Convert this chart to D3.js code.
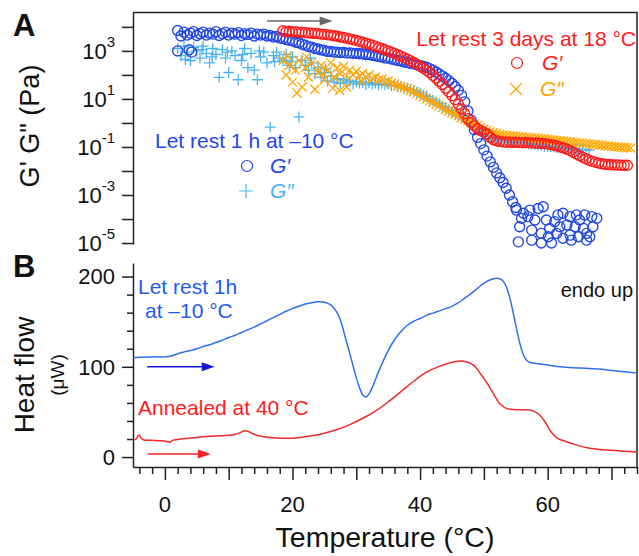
<!DOCTYPE html>
<html>
<head>
<meta charset="utf-8">
<script src="https://cdn.jsdelivr.net/npm/d3@7"></script>
<style>
  body { margin: 0; background: #fff; }
  svg { font-family: "Liberation Sans", Arial, sans-serif; display: block; }
</style>
</head>
<body>
<svg id="chart" width="639" height="556"></svg>
<script>
// ---- data (temperature in °C, moduli as log10(Pa), heat flow in µW) ----

// G' after 1 h at -10 °C  [T, log10 G']
var coldGp = [
  [2.0,3.85],[2.5,3.62],[3.0,3.78],[3.5,3.66],[4.0,3.74],[4.5,3.80],[5.0,3.64],[5.5,3.72],[6.0,3.78],[6.5,3.66],
  [7.0,3.74],[7.5,3.70],[8.0,3.80],[8.5,3.64],[9.0,3.72],[9.5,3.78],[10.0,3.66],[10.5,3.74],[11.0,3.70],[11.5,3.76],
  [12.0,3.64],[12.5,3.72],[13.0,3.68],[13.5,3.74],[14.0,3.62],[14.5,3.70],[15.0,3.66],[15.5,3.70],[16.0,3.62],[16.5,3.64],
  [17.0,3.58],[17.5,3.60],[18.0,3.54],[18.5,3.52],[19.0,3.48],[19.5,3.44],[20.0,3.42],[20.5,3.36],[21.0,3.34],[21.5,3.28],
  [22.0,3.24],[22.5,3.18],[23.0,3.16],[23.5,3.10],[24.0,3.08],[24.5,3.04],[25.0,3.02],[25.5,2.98],[26.0,2.98],[26.5,2.95],
  [27.0,2.95],[27.5,2.93],[28.0,2.94],[28.5,2.91],[29.0,2.92],[29.5,2.90],[30.0,2.90],[30.5,2.88],[31.0,2.88],[31.5,2.85],
  [32.0,2.85],[32.5,2.82],[33.0,2.80],[33.5,2.77],[34.0,2.75],[34.5,2.71],[35.0,2.70],[35.5,2.66],[36.0,2.64],[36.5,2.60],
  [37.0,2.58],[37.5,2.54],[38.0,2.52],[38.5,2.48],[39.0,2.46],[39.5,2.42],[40.0,2.40],[40.5,2.35],[41.0,2.32],[41.5,2.26],
  [42.0,2.20],[42.5,2.12],[43.0,2.04],[43.5,1.95],[44.0,1.86],[44.5,1.76],[45.0,1.65],[45.5,1.52],[46.0,1.36],[46.5,1.15],
  [47.0,0.88],[47.5,0.50],[48.0,0.12],[48.5,-0.28],[49.0,-0.60],[49.5,-0.86],[50.0,-1.12],[50.5,-1.38],[51.0,-1.62],[51.5,-1.85],
  [52.0,-2.08],[52.5,-2.28],[53.0,-2.48],[53.5,-2.72],[54.0,-3.00],[54.5,-3.28],[55.0,-3.52],
  [2.0,3.00],[3.8,3.05],[4.2,2.95],
  [55.1,-3.63],[56.2,-3.76],[57.2,-3.63],[58.5,-3.56],[59.3,-3.49],[55.6,-4.32],[57.5,-4.46],[59.0,-4.60],[60.3,-4.39],[61.6,-3.83],
  [62.4,-3.76],[63.5,-3.90],[64.5,-3.83],[65.0,-4.04],[65.8,-3.83],[66.9,-3.90],[67.1,-4.32],[66.1,-4.60],[64.8,-4.74],[63.5,-4.67],
  [62.4,-4.80],[61.4,-4.60],[60.6,-5.00],[59.0,-5.00],[57.5,-4.88],[55.4,-4.95],[55.9,-3.97],[58.0,-4.04],[59.8,-4.04],[61.1,-4.11],
  [63.0,-4.25],[64.3,-4.32],[65.6,-4.39],[66.6,-4.74],[61.9,-4.32],[60.1,-4.74],[56.9,-3.90],[63.7,-4.88],[66.1,-4.88],[67.7,-3.97]
];

// G'' after 1 h at -10 °C
var coldGpp = [
  [2.0,3.10],[2.5,2.80],[3.0,3.20],[3.5,2.95],[4.0,2.60],[4.5,3.15],[5.0,3.00],[5.5,2.70],[6.0,3.20],[6.5,2.90],
  [7.0,2.50],[7.5,3.10],[8.0,2.85],[8.5,1.90],[9.0,3.05],[9.5,2.70],[10.0,2.10],[10.5,3.00],[11.0,2.80],[11.5,1.80],
  [12.0,2.60],[12.5,3.10],[13.0,2.30],[13.5,2.90],[14.0,2.20],[14.5,1.80],[15.0,2.75],[15.5,2.95],[16.0,2.50],[16.5,-0.17],
  [17.0,2.80],[17.5,2.95],[18.0,2.70],[18.5,2.60],[19.0,2.85],[19.5,2.40],[20.0,2.75],[20.5,2.30],[21.0,0.25],[21.5,2.60],
  [22.0,2.40],[22.5,2.20],[23.0,2.50],[23.5,2.05],[24.0,2.30],[24.5,1.90],[25.0,2.10],[25.5,1.75],[26.0,1.95],[26.5,1.70],
  [27.0,1.85],[27.5,1.65],[28.0,1.80],[28.5,1.70],[29.0,1.75],[29.5,1.62],[30.0,1.72],[30.5,1.66],[31.0,1.70],[31.5,1.60],
  [32.0,1.68],[32.5,1.62],[33.0,1.66],[33.5,1.58],[34.0,1.65],[34.5,1.60],[35.0,1.62],[35.5,1.55],[36.0,1.58],[36.5,1.52],
  [37.0,1.52],[37.5,1.46],[38.0,1.45],[38.5,1.38],[39.0,1.36],[39.5,1.28],[40.0,1.24],[40.5,1.15],[41.0,1.10],[41.5,1.00],
  [42.0,0.95],[42.5,0.86],[43.0,0.80],[43.5,0.70],[44.0,0.64],[44.5,0.55],[45.0,0.48],[45.5,0.40],[46.0,0.34],[46.5,0.24],
  [47.0,0.15],[47.5,0.04],[48.0,-0.06],[48.5,-0.16],[49.0,-0.26],[49.5,-0.36],[50.0,-0.44],[50.5,-0.50],[51.0,-0.56],[51.5,-0.60],
  [52.0,-0.64],[52.5,-0.67],[53.0,-0.70],[53.5,-0.72],[54.0,-0.74],[54.5,-0.76],[55.0,-0.78],[55.5,-0.80],[56.0,-0.82],[56.5,-0.84],
  [57.0,-0.86],[57.5,-0.88],[58.0,-0.90],[58.5,-0.92],[59.0,-0.94],[59.5,-0.96],[60.0,-0.97],[60.5,-0.99],[61.0,-1.00],[61.5,-1.02],
  [62.0,-1.03],[62.5,-1.05],[63.0,-1.06],[63.5,-1.07],[64.0,-1.08],[64.5,-1.09],[65.0,-1.10],[65.5,-1.11],[66.0,-1.12],[66.5,-1.13],
  [3.2,2.65],[5.8,3.05],[7.4,2.75],[9.8,2.95],[12.2,2.85],[14.8,3.00],[17.2,2.55],[19.8,2.55],[22.8,2.70],[25.2,2.25]
];

// G' after 3 days at 18 °C
var warmGp = [
  [18.5,3.84],[19.0,3.80],[19.5,3.82],[20.0,3.79],[20.5,3.80],[21.0,3.77],[21.5,3.78],[22.0,3.76],[22.5,3.75],[23.0,3.74],
  [23.5,3.73],[24.0,3.72],[24.5,3.70],[25.0,3.69],[25.5,3.67],[26.0,3.66],[26.5,3.63],[27.0,3.61],[27.5,3.58],[28.0,3.56],
  [28.5,3.53],[29.0,3.50],[29.5,3.47],[30.0,3.44],[30.5,3.40],[31.0,3.36],[31.5,3.32],[32.0,3.28],[32.5,3.24],[33.0,3.19],
  [33.5,3.15],[34.0,3.10],[34.5,3.05],[35.0,3.00],[35.5,2.95],[36.0,2.90],[36.5,2.84],[37.0,2.78],[37.5,2.72],[38.0,2.66],
  [38.5,2.59],[39.0,2.52],[39.5,2.44],[40.0,2.36],[40.5,2.28],[41.0,2.19],[41.5,2.10],[42.0,1.98],[42.5,1.86],[43.0,1.73],
  [43.5,1.60],[44.0,1.45],[44.5,1.30],[45.0,1.14],[45.5,0.97],[46.0,0.78],[46.5,0.58],[47.0,0.38],[47.5,0.18],[48.0,0.02],
  [48.5,-0.12],[49.0,-0.24],[49.5,-0.32],[50.0,-0.38],[50.5,-0.46],[51.0,-0.60],[51.5,-0.70],[52.0,-0.74],[52.5,-0.77],[53.0,-0.79],
  [53.5,-0.80],[54.0,-0.80],[54.5,-0.81],[55.0,-0.80],[55.5,-0.81],[56.0,-0.82],[56.5,-0.81],[57.0,-0.82],[57.5,-0.83],[58.0,-0.83],
  [58.5,-0.84],[59.0,-0.85],[59.5,-0.86],[60.0,-0.88],[60.5,-0.90],[61.0,-0.93],[61.5,-0.96],[62.0,-1.00],[62.5,-1.04],[63.0,-1.09],
  [63.5,-1.15],[64.0,-1.22],[64.5,-1.29],[65.0,-1.36],[65.5,-1.43],[66.0,-1.49],[66.5,-1.55],[67.0,-1.60],[67.5,-1.64],[68.0,-1.67],
  [68.5,-1.70],[69.0,-1.72],[69.5,-1.73],[70.0,-1.74],[70.5,-1.75],[71.0,-1.75],[71.5,-1.76],[72.0,-1.76],[72.5,-1.76]
];

// G'' after 3 days at 18 °C
var warmGpp = [
  [18.5,2.60],[19.0,2.00],[19.5,2.40],[20.0,1.70],[20.5,2.20],[21.0,2.60],[21.5,1.50],[22.0,2.30],[22.5,1.90],[23.0,2.50],
  [23.5,1.40],[24.0,2.10],[24.5,2.40],[25.0,1.80],[25.5,2.20],[26.0,2.50],[26.5,1.90],[27.0,2.30],[27.5,2.05],[28.0,2.35],
  [28.5,1.95],[29.0,2.20],[29.5,2.00],[30.0,2.15],[30.5,1.95],[31.0,2.05],[31.5,1.90],[32.0,2.00],[32.5,1.85],[33.0,1.92],
  [33.5,1.80],[34.0,1.82],[34.5,1.72],[35.0,1.74],[35.5,1.65],[36.0,1.62],[36.5,1.55],[37.0,1.52],[37.5,1.45],[38.0,1.42],
  [38.5,1.35],[39.0,1.30],[39.5,1.22],[40.0,1.15],[40.5,1.08],[41.0,1.00],[41.5,0.92],[42.0,0.86],[42.5,0.78],[43.0,0.72],
  [43.5,0.64],[44.0,0.56],[44.5,0.50],[45.0,0.42],[45.5,0.36],[46.0,0.30],[46.5,0.22],[47.0,0.15],[47.5,0.08],[48.0,0.02],
  [48.5,-0.04],[49.0,-0.10],[49.5,-0.18],[50.0,-0.25],[50.5,-0.30],[51.0,-0.36],[51.5,-0.40],[52.0,-0.44],[52.5,-0.47],[53.0,-0.50],
  [53.5,-0.52],[54.0,-0.53],[54.5,-0.54],[55.0,-0.55],[55.5,-0.56],[56.0,-0.58],[56.5,-0.59],[57.0,-0.60],[57.5,-0.62],[58.0,-0.63],
  [58.5,-0.65],[59.0,-0.66],[59.5,-0.67],[60.0,-0.69],[60.5,-0.70],[61.0,-0.72],[61.5,-0.73],[62.0,-0.74],[62.5,-0.76],[63.0,-0.77],
  [63.5,-0.78],[64.0,-0.80],[64.5,-0.81],[65.0,-0.83],[65.5,-0.84],[66.0,-0.86],[66.5,-0.87],[67.0,-0.89],[67.5,-0.90],[68.0,-0.92],
  [68.5,-0.93],[69.0,-0.95],[69.5,-0.96],[70.0,-0.98],[70.5,-0.99],[71.0,-1.00],[71.5,-1.01],[72.0,-1.02],[72.5,-1.03],[73.0,-1.04],
  [20.7,1.25],[26.3,1.45],[27.4,1.35],[28.5,1.50],[19.2,2.80],[22.2,2.75],[24.8,2.05],[30.8,1.75]
];

// DSC heat flow [T, µW]
var dscCold = [
  [-5,110],[-4,110.5],[-2,111],[0,111],[1,112],[2,114.5],[3,116.5],[4,118],[5,120],[6,122.5],[7,124.5],[8,127],
  [9,129.5],[10,132.5],[11,135],[12,138],[13,141],[14,144],[15,147.5],[16,151],[17,154.5],[18,158],[19,161.5],
  [20,164.5],[21,167],[22,169.5],[23,171],[24,172],[25,171.5],[26,168.5],[27,160],[27.5,152],[28,140],[28.5,127],
  [29,114],[29.5,101],[30,88],[30.5,77],[31,69],[31.5,66.5],[32,70],[32.5,77],[33,86],[34,103],[35,118],[36,130],
  [37,139],[38,146],[39,150.5],[40,153.5],[41,157],[42,159.5],[43,162],[44,164.5],[45,167],[46,171],[47,176],
  [48,181],[49,187],[50,192.5],[51,196.5],[52,198],[52.5,197.5],[53,195],[53.5,189],[54,178],[54.5,163],[55,146],
  [55.5,130],[56,117],[56.5,109],[57,105.5],[58,104],[60,102],[62,100],[64,99],[66,98.5],[68,97.5],[70,96],
  [72,94.5],[74,93]
];
var dscAnnealed = [
  [-5,19],[-4.5,20],[-4.1,24.5],[-3.7,21],[-3.3,19],[-2,18.5],[-1,18],[0,17.8],[0.5,17],[0.8,16.5],[1.2,18.5],
  [2,19.5],[4,21],[6,22.5],[8,23.3],[10,24.2],[11,25],[11.8,27],[12.4,29],[13,28.5],[13.8,25.8],[15,23],[17,21.5],
  [19,20.8],[21,21.5],[23,23.5],[25,26.5],[27,30.5],[29,36],[31,43],[33,51],[35,61],[37,72.5],[39,84],[41,94],
  [43,100.5],[45,105],[46.5,106.5],[47.5,105],[48.5,101],[49.5,92],[50.5,82],[51.5,70],[52.5,59],[53.5,54],
  [55,52.5],[56.5,52.5],[57.5,51.5],[58.5,48],[59.5,40],[60.5,28],[61.5,21],[62.5,18],[64,14.5],[66,10.5],
  [68,8.5],[70,7.5],[72,6.5],[74,5.5]
];

// axis ticks
var xMajorTicks = [0, 10, 20, 30, 40, 50, 60, 70];
var xLabelTicks = [0, 20, 40, 60];
var xMinorTicks = [-4,-2,2,4,6,8,12,14,16,18,22,24,26,28,32,34,36,38,42,44,46,48,52,54,56,58,62,64,66,68,72,74];
var gExponents = [-5, -4, -3, -2, -1, 0, 1, 2, 3, 4];
var gLabelExponents = [-5, -3, -1, 1, 3];
var hMajorTicks = [0, 100, 200];
var hMinorTicks = [20, 40, 60, 80, 120, 140, 160, 180];

// colours
var cBlue = "#1f46e6", cSky = "#4ab4f0", cRed = "#ff1a1a", cOrange = "#ffa500";
var cDscBlue = "#2f6ff0", cDscRed = "#f32a2a";

var svg = d3.select("#chart");

var x = d3.scaleLinear().domain([-5, 74]).range([133, 637]);
var yTop = d3.scaleLog().domain([Math.pow(10, -5.04), Math.pow(10, 4.62)]).range([244, 12]);
var yBot = d3.scaleLinear().domain([-11, 215]).range([467, 263]);

// frame (top + right)
svg.append("path")
  .attr("d", "M133,12.5H637V467")
  .attr("fill", "none").attr("stroke", "#222").attr("stroke-width", 1.5);

// ---- panel A axis ----
var axA = svg.append("g").attr("transform", "translate(133,0)")
  .call(d3.axisLeft(yTop).tickValues(gExponents.map(function (e) { return Math.pow(10, e); }))
    .tickSize(11).tickSizeOuter(0).tickFormat(""));
axA.select(".domain").attr("stroke", "#222").attr("stroke-width", 1.5);
axA.selectAll(".tick line").attr("stroke", "#222").attr("stroke-width", 1.5);

var labA = svg.append("g").selectAll("text").data(gLabelExponents).enter().append("text")
  .attr("x", 115).attr("y", function (e) { return yTop(Math.pow(10, e)); })
  .attr("dy", "0.35em").attr("text-anchor", "end")
  .attr("font-size", 22).attr("fill", "#111");
labA.append("tspan").text("10");
labA.append("tspan").attr("font-size", 15).attr("dy", "-0.75em").text(function (e) { return e; });

// ---- panel B axes ----
var axB = svg.append("g").attr("transform", "translate(133,0)")
  .call(d3.axisLeft(yBot).tickValues(hMajorTicks).tickSize(11).tickSizeOuter(0).tickFormat(""));
axB.select(".domain").attr("stroke", "#222").attr("stroke-width", 1.5);
axB.selectAll(".tick line").attr("stroke", "#222").attr("stroke-width", 1.5);
var axBm = svg.append("g").attr("transform", "translate(133,0)")
  .call(d3.axisLeft(yBot).tickValues(hMinorTicks).tickSize(6).tickFormat(""));
axBm.select(".domain").remove();
axBm.selectAll(".tick line").attr("stroke", "#222").attr("stroke-width", 1.5);

svg.append("g").selectAll("text").data(hMajorTicks).enter().append("text")
  .attr("x", 115).attr("y", function (d) { return yBot(d); })
  .attr("dy", "0.35em").attr("text-anchor", "end")
  .attr("font-size", 22).attr("fill", "#111").text(function (d) { return d; });

var axX = svg.append("g").attr("transform", "translate(0,467)")
  .call(d3.axisBottom(x).tickValues(xMajorTicks).tickSize(13).tickSizeOuter(0).tickFormat(""));
axX.select(".domain").attr("stroke", "#222").attr("stroke-width", 1.5);
axX.selectAll(".tick line").attr("stroke", "#222").attr("stroke-width", 1.5);
var axXm = svg.append("g").attr("transform", "translate(0,467)")
  .call(d3.axisBottom(x).tickValues(xMinorTicks).tickSize(7).tickFormat(""));
axXm.select(".domain").remove();
axXm.selectAll(".tick line").attr("stroke", "#222").attr("stroke-width", 1.5);

svg.append("g").selectAll("text").data(xLabelTicks).enter().append("text")
  .attr("x", function (d) { return x(d); }).attr("y", 512)
  .attr("text-anchor", "middle").attr("font-size", 22).attr("fill", "#111")
  .text(function (d) { return d; });

// ---- panel A markers ----
function px(d) { return x(d[0]); }
function py(d) { return yTop(Math.pow(10, d[1])); }

var gA = svg.append("g");
gA.selectAll("path.sky").data(coldGpp).enter().append("path")
  .attr("d", "M-5.5,0H5.5M0,-5.5V5.5")
  .attr("transform", function (d) { return "translate(" + px(d) + "," + py(d) + ")"; })
  .attr("stroke", cSky).attr("stroke-width", 1.3).attr("fill", "none");
gA.selectAll("circle.blue").data(coldGp).enter().append("circle")
  .attr("cx", px).attr("cy", py).attr("r", 5)
  .attr("fill", "none").attr("stroke", cBlue).attr("stroke-width", 1.35);
gA.selectAll("path.orange").data(warmGpp).enter().append("path")
  .attr("d", "M-4.5,-4.5L4.5,4.5M-4.5,4.5L4.5,-4.5")
  .attr("transform", function (d) { return "translate(" + px(d) + "," + py(d) + ")"; })
  .attr("stroke", cOrange).attr("stroke-width", 1.3).attr("fill", "none");
gA.selectAll("circle.red").data(warmGp).enter().append("circle")
  .attr("cx", px).attr("cy", py).attr("r", 5)
  .attr("fill", "none").attr("stroke", cRed).attr("stroke-width", 1.35);

// ---- panel B lines ----
var line = d3.line().x(function (d) { return x(d[0]); }).y(function (d) { return yBot(d[1]); })
  .curve(d3.curveCatmullRom);
svg.append("path").datum(dscCold).attr("d", line)
  .attr("fill", "none").attr("stroke", cDscBlue).attr("stroke-width", 1.5);
svg.append("path").datum(dscAnnealed).attr("d", line)
  .attr("fill", "none").attr("stroke", cDscRed).attr("stroke-width", 1.5);

// ---- arrows ----
function arrow(x1, x2, y, color) {
  svg.append("line").attr("x1", x1).attr("x2", x2 - 9).attr("y1", y).attr("y2", y)
    .attr("stroke", color).attr("stroke-width", 1.5);
  svg.append("path").attr("d", "M" + x2 + "," + y + "l-13,-4.5v9z").attr("fill", color);
}
arrow(x(16), x(26.3), yTop(Math.pow(10, 4.25)), "#666");
arrow(x(-2.8), x(7.8), yBot(100), "#1414e6");
arrow(x(-2.7), x(7.2), yBot(3.5), "#ff2020");

// ---- text ----
function txt(t, xx, yy, size, color, opts) {
  opts = opts || {};
  return svg.append("text").attr("x", xx).attr("y", yy).attr("font-size", size)
    .attr("fill", color).attr("text-anchor", opts.anchor || "start")
    .attr("font-weight", opts.weight || "normal").attr("font-style", opts.style || "normal")
    .text(t);
}
txt("A", 13, 36, 31, "#111", { weight: "bold" });
txt("B", 13, 277, 31, "#111", { weight: "bold" });

svg.append("text").attr("transform", "translate(39,126) rotate(-90)")
  .attr("text-anchor", "middle").attr("font-size", 27).attr("fill", "#111")
  .text("G' G\" (Pa)");
svg.append("text").attr("transform", "translate(34,375) rotate(-90)")
  .attr("text-anchor", "middle").attr("font-size", 28).attr("fill", "#111")
  .text("Heat flow");
svg.append("text").attr("transform", "translate(64,375) rotate(-90)")
  .attr("text-anchor", "middle").attr("font-size", 19).attr("fill", "#111")
  .text("(μW)");
txt("Temperature (°C)", 385, 547, 28.5, "#111", { anchor: "middle" });

// panel A legends
txt("Let rest 1 h at \u201310 °C", 155, 148, 21, cBlue);
svg.append("circle").attr("cx", 247).attr("cy", 166).attr("r", 5.5)
  .attr("fill", "none").attr("stroke", cBlue).attr("stroke-width", 1.2);
txt("G\u2032", 270, 173, 21, cBlue, { style: "italic" });
svg.append("path").attr("d", "M239,191H253M246,184V198")
  .attr("stroke", cSky).attr("stroke-width", 1.2);
txt("G\u2033", 270, 198, 21, cSky, { style: "italic" });

txt("Let rest 3 days at 18 °C", 636, 46, 21, cRed, { anchor: "end" });
svg.append("circle").attr("cx", 517).attr("cy", 63).attr("r", 5.5)
  .attr("fill", "none").attr("stroke", cRed).attr("stroke-width", 1.2);
txt("G\u2032", 542, 70, 21, cRed, { style: "italic" });
svg.append("path").attr("d", "M510,83L522,95M510,95L522,83")
  .attr("stroke", cOrange).attr("stroke-width", 1.2);
txt("G\u2033", 540, 96, 21, cOrange, { style: "italic" });

// panel B labels
txt("Let rest 1h", 138, 294, 21, "#1f5bf0");
txt("at \u201310 °C", 145, 318, 21, "#1f5bf0");
txt("Annealed at 40 °C", 138, 415, 21, cRed);
txt("endo up", 633, 297, 20, "#111", { anchor: "end" });
</script>
</body>
</html>
